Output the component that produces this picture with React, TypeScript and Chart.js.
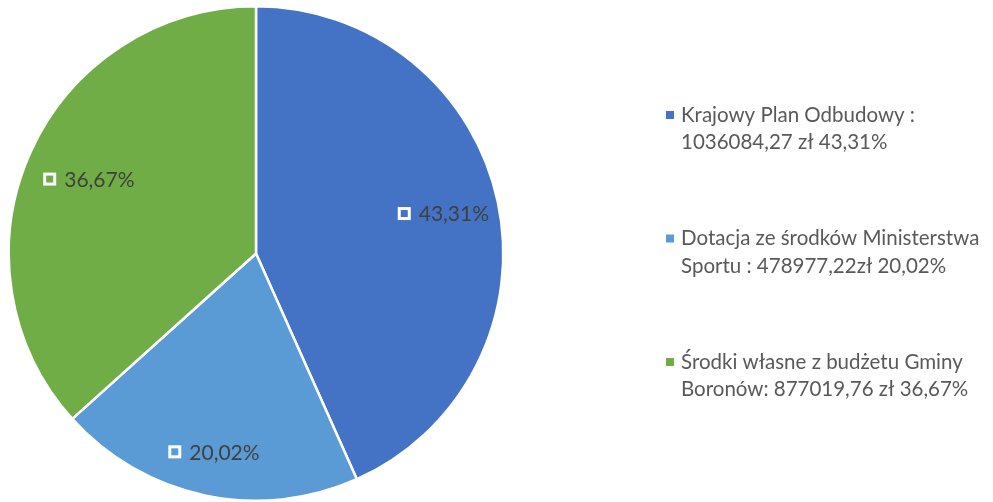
import React, { useEffect, useRef } from "react";
import { Chart, registerables } from "chart.js";

Chart.register(...registerables);

const categories = [
  "Krajowy Plan Odbudowy",
  "Dotacja ze środków Ministerstwa Sportu",
  "Środki własne z budżetu Gminy Boronów",
];
const values = [1036084.27, 478977.22, 877019.76];
const percentLabels = ["43,31%", "20,02%", "36,67%"];
const legendLines = [
  ["Krajowy Plan Odbudowy :", "1036084,27 zł 43,31%"],
  ["Dotacja ze środków Ministerstwa", "Sportu : 478977,22zł 20,02%"],
  ["Środki własne z budżetu Gminy", "Boronów: 877019,76 zł 36,67%"],
];
const colors = ["#4472C4", "#5B9BD5", "#70AD47"];
const labelRadius = [0.775, 0.82, 0.74];

const FONT = "Lato, 'Open Sans', sans-serif";

const labelPlugin = {
  id: "sliceLabels",
  afterDatasetsDraw(chart: any) {
    const ctx = chart.ctx;
    const meta = chart.getDatasetMeta(0);
    ctx.save();
    ctx.font = `21px ${FONT}`;
    ctx.textBaseline = "middle";
    meta.data.forEach((arc: any, i: number) => {
      const { x, y, startAngle, endAngle, outerRadius } = arc.getProps(
        ["x", "y", "startAngle", "endAngle", "outerRadius"],
        true
      );
      const mid = (startAngle + endAngle) / 2;
      const r = outerRadius * labelRadius[i];
      const cx = x + Math.cos(mid) * r;
      const cy = y + Math.sin(mid) * r;
      const text = percentLabels[i];
      const tw = ctx.measureText(text).width;
      const sq = 13;
      const gap = 8;
      const total = sq + gap + tw;
      const left = cx - total / 2;
      ctx.fillStyle = "#FFFFFF";
      ctx.fillRect(left, cy - sq / 2, sq, sq);
      ctx.fillStyle = colors[i];
      ctx.fillRect(left + 3, cy - sq / 2 + 3, sq - 6, sq - 6);
      ctx.fillStyle = "#404040";
      ctx.textAlign = "left";
      ctx.fillText(text, left + sq + gap, cy + 1);
    });
    ctx.restore();
  },
};

const legendPlugin = {
  id: "customLegend",
  afterDraw(chart: any) {
    const ctx = chart.ctx;
    ctx.save();
    ctx.font = `20.5px ${FONT}`;
    ctx.textBaseline = "middle";
    ctx.textAlign = "left";
    const startY = 115;
    const itemGap = 123.5;
    const lineH = 27.5;
    legendLines.forEach((lines, i) => {
      const y0 = startY + i * itemGap;
      ctx.fillStyle = colors[i];
      ctx.fillRect(666, y0 - 4, 8, 8);
      ctx.fillStyle = "#595959";
      lines.forEach((ln, j) => {
        ctx.fillText(ln, 681, y0 + j * lineH);
      });
    });
    ctx.restore();
  },
};

export default function App() {
  const ref = useRef<HTMLCanvasElement | null>(null);
  useEffect(() => {
    if (!ref.current) return;
    const chart = new Chart(ref.current, {
      type: "pie",
      data: {
        labels: categories,
        datasets: [
          {
            data: values,
            backgroundColor: colors,
            borderColor: "#FFFFFF",
            borderWidth: 2.5,
          },
        ],
      },
      options: {
        animation: false,
        responsive: false,
        maintainAspectRatio: false,
        layout: { padding: { left: 4, right: 485, top: 5, bottom: -3 } },
        plugins: {
          legend: { display: false },
          tooltip: { enabled: false },
        },
      },
      plugins: [labelPlugin, legendPlugin],
    });
    return () => chart.destroy();
  }, []);
  return (
    <div style={{ position: "fixed", left: 0, top: 0, width: 993, height: 502, background: "#fff" }}>
      <canvas ref={ref} width={993} height={502} style={{ width: 993, height: 502 }} />
    </div>
  );
}
